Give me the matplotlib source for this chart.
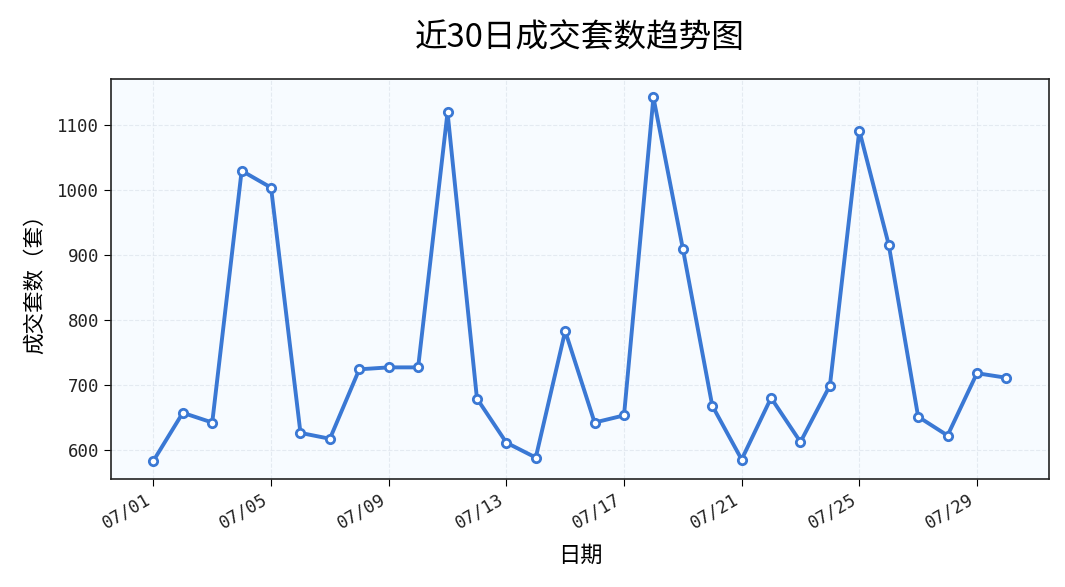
import matplotlib
matplotlib.use("Agg")
import matplotlib.pyplot as plt
import matplotlib.dates as mdates
import pandas as pd

plt.rcParams['font.family'] = ['Noto Sans CJK SC', 'DejaVu Sans']

# 近30日每日成交套数
dates = pd.date_range("2024-07-01", "2024-07-30", freq="D")
volumes = [583, 657, 642, 1030, 1004, 626, 617, 724, 727, 727,
           1120, 679, 611, 588, 783, 642, 653, 1143, 910, 668,
           585, 680, 612, 699, 1092, 916, 651, 622, 718, 711]

fig, ax = plt.subplots(figsize=(10.65, 5.87), dpi=100)
ax.set_facecolor("#f7fbff")

ax.plot(dates, volumes, color="#3a78d4", linewidth=2.8,
        marker="o", markersize=6, markerfacecolor="white",
        markeredgecolor="#3a78d4", markeredgewidth=2)

ax.xaxis.set_major_locator(mdates.DayLocator(bymonthday=[1, 5, 9, 13, 17, 21, 25, 29]))
ax.xaxis.set_major_formatter(mdates.DateFormatter("%m/%d"))
ax.grid(True, linestyle="--", color="#dde3ec", linewidth=0.8, alpha=0.7)

for s in ax.spines.values():
    s.set_linewidth(1.2)
    s.set_color("#222222")

ax.tick_params(labelsize=12.5, length=5, labelcolor="#222222")

ax.set_title("近30日成交套数趋势图", fontsize=23.5, pad=23)
ax.set_xlabel("日期", fontsize=16, labelpad=8)
ax.set_ylabel("成交套数（套）", fontsize=15.5, labelpad=8)

fig.autofmt_xdate(rotation=30, ha="right")
for lbl in ax.get_xticklabels() + ax.get_yticklabels():
    lbl.set_family("DejaVu Sans Mono")
fig.subplots_adjust(left=0.104, right=0.985, top=0.865, bottom=0.184)
fig.savefig("out.png")
